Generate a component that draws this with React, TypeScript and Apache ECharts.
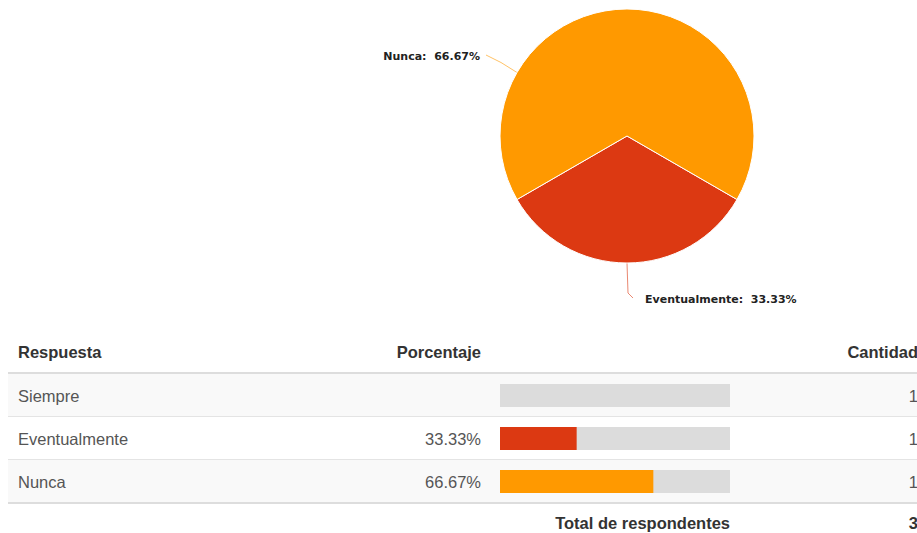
import React, { useEffect, useRef } from "react";
import * as echarts from "echarts";

const answers = ["Siempre", "Eventualmente", "Nunca"];
const percentages = [0, 33.33, 66.67];
const counts = [1, 1, 1];
const totalLabel = "Total de respondentes";
const totalRespondents = 3;
const headers = ["Respuesta", "Porcentaje", "Cantidad"];
const pieNames = ["Eventualmente", "Nunca"];
const pieValues = [33.33, 66.67];
const colorOf: Record<string, string> = {
  Siempre: "#3366cc",
  Eventualmente: "#dc3912",
  Nunca: "#ff9900",
};

const W = 917;
const H = 533;
const CX = 627;
const CY = 136;
const R = 127;
const TABLE_LEFT = 8;
const TABLE_TOP = 374;
const ROW_H = 43;
const BAR_LEFT = 500;
const BAR_W = 230;
const FS = 16.5;
const FONT = "'Liberation Sans', Arial, sans-serif";

export default function App() {
  const ref = useRef<HTMLDivElement>(null);
  useEffect(() => {
    document.body.style.margin = "0";
    if (!ref.current) return;
    const chart = echarts.init(ref.current, undefined, { renderer: "svg" });

    const rad = (d: number) => (d * Math.PI) / 180;
    const nuncaAnchor = [CX + R * Math.cos(rad(150)), CY - R * Math.sin(rad(150))];
    const eventAnchor = [CX, CY + R];

    const graphics: any[] = [];
    answers.forEach((_, i) => {
      graphics.push({
        type: "rect",
        z: -10,
        shape: { x: TABLE_LEFT, y: TABLE_TOP + i * ROW_H, width: W - TABLE_LEFT, height: ROW_H },
        style: { fill: i % 2 === 0 ? "#f9f9f9" : "#ffffff" },
      });
      if (i < answers.length - 1) {
        graphics.push({
          type: "line",
          z: -9,
          shape: { x1: TABLE_LEFT, y1: TABLE_TOP + (i + 1) * ROW_H - 0.5, x2: W, y2: TABLE_TOP + (i + 1) * ROW_H - 0.5 },
          style: { stroke: "#e4e4e4", lineWidth: 1 },
        });
      }
    });
    graphics.push({
      type: "line",
      z: -9,
      shape: { x1: TABLE_LEFT, y1: TABLE_TOP - 1, x2: W, y2: TABLE_TOP - 1 },
      style: { stroke: "#dddddd", lineWidth: 2 },
    });
    graphics.push({
      type: "line",
      z: -9,
      shape: { x1: TABLE_LEFT, y1: TABLE_TOP + 3 * ROW_H, x2: W, y2: TABLE_TOP + 3 * ROW_H },
      style: { stroke: "#dddddd", lineWidth: 2 },
    });
    const headerX = [18, 481, 918];
    const headerAlign = ["left", "right", "right"];
    headers.forEach((h, i) => {
      graphics.push({
        type: "text",
        x: headerX[i],
        y: 352,
        style: {
          text: h,
          fill: "#333333",
          font: `bold ${FS}px ${FONT}`,
          align: headerAlign[i],
          verticalAlign: "middle",
        },
      });
    });
    graphics.push({
      type: "text",
      x: BAR_LEFT + BAR_W,
      y: 523,
      style: { text: totalLabel, fill: "#333333", font: `bold ${FS}px ${FONT}`, align: "right", verticalAlign: "middle" },
    });
    graphics.push({
      type: "text",
      x: 918,
      y: 523,
      style: { text: String(totalRespondents), fill: "#333333", font: `bold ${FS}px ${FONT}`, align: "right", verticalAlign: "middle" },
    });

    chart.setOption({
      animation: false,
      graphic: graphics,
      grid: {
        left: BAR_LEFT,
        top: TABLE_TOP,
        width: BAR_W,
        height: ROW_H * answers.length,
        outerBoundsMode: "none",
        containLabel: false,
      },
      xAxis: { type: "value", min: 0, max: 100, show: false },
      yAxis: [
        {
          type: "category",
          data: answers,
          inverse: true,
          axisLine: { show: false },
          axisTick: { show: false },
          splitLine: { show: false },
          axisLabel: {
            margin: BAR_LEFT - 18,
            align: "left",
            fontSize: FS,
            fontFamily: FONT,
            color: "#555555",
          },
        },
        {
          type: "category",
          position: "right",
          data: answers,
          inverse: true,
          axisLine: { show: false },
          axisTick: { show: false },
          splitLine: { show: false },
          axisLabel: {
            margin: 918 - (BAR_LEFT + BAR_W),
            align: "right",
            fontSize: FS,
            fontFamily: FONT,
            color: "#555555",
            formatter: (_v: string, i: number) => String(counts[i]),
          },
        },
      ],
      series: [
        {
          type: "bar",
          yAxisIndex: 0,
          barWidth: 23,
          showBackground: true,
          backgroundStyle: { color: "#dcdcdc" },
          data: percentages.map((v, i) => ({ value: v, itemStyle: { color: colorOf[answers[i]] } })),
          label: {
            show: true,
            position: "left",
            distance: BAR_LEFT - 481,
            fontSize: FS,
            fontFamily: FONT,
            color: "#555555",
            formatter: (p: any) => (p.value > 0 ? p.value.toFixed(2) + "%" : ""),
          },
        },
        {
          type: "pie",
          center: [CX, CY],
          radius: [0, R],
          startAngle: 330,
          clockwise: true,
          data: pieNames.map((n, i) => ({ name: n, value: pieValues[i], itemStyle: { color: colorOf[n] } })),
          itemStyle: { borderColor: "#ffffff", borderWidth: 1 },
          label: {
            show: true,
            formatter: (p: any) => `${p.name}:  ${p.value.toFixed(2)}%`,
            fontFamily: "'DejaVu Sans', Verdana, sans-serif",
            fontWeight: "bold",
            fontSize: 11,
            color: "#222222",
          },
          labelLine: { show: true, lineStyle: { width: 1, opacity: 0.6 } },
          labelLayout: (params: any) => {
            if (params.dataIndex === 1) {
              return {
                x: 480,
                y: 56,
                align: "right",
                verticalAlign: "middle",
                labelLinePoints: [nuncaAnchor, [nuncaAnchor[0] - 16, nuncaAnchor[1] - 10], [486, 55]],
              };
            }
            return {
              x: 645,
              y: 299,
              align: "left",
              verticalAlign: "middle",
              labelLinePoints: [eventAnchor, [eventAnchor[0] + 1, eventAnchor[1] + 30], [eventAnchor[0] + 6, eventAnchor[1] + 35]],
            };
          },
          emphasis: { disabled: true },
        },
      ],
    });
    return () => chart.dispose();
  }, []);
  return <div ref={ref} style={{ width: W, height: H }} />;
}
